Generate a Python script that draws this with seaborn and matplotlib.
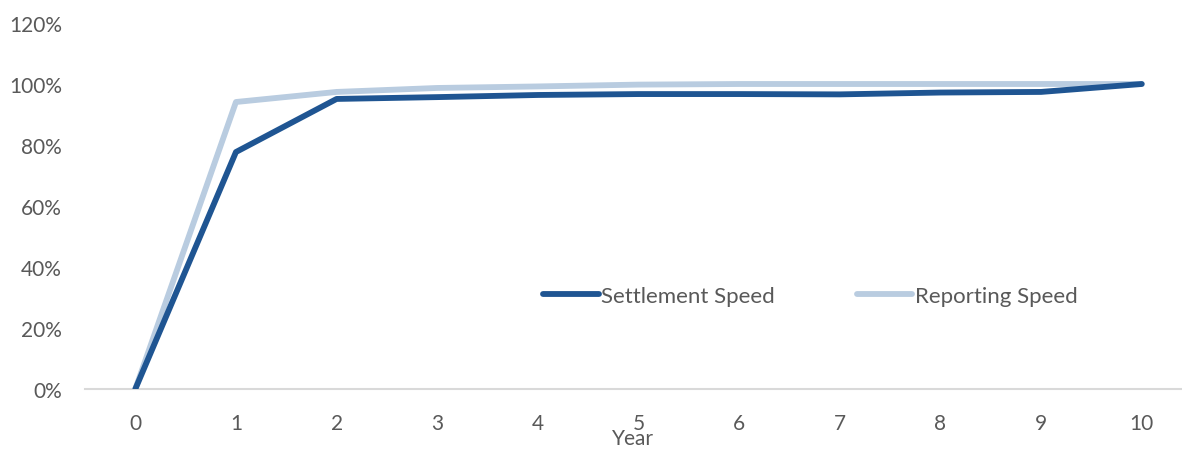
import matplotlib
matplotlib.use("Agg")
import matplotlib.pyplot as plt
import matplotlib.ticker as mticker
import seaborn as sns
import pandas as pd

years = [0, 1, 2, 3, 4, 5, 6, 7, 8, 9, 10]
settlement_speed = [0.0, 0.777, 0.951, 0.957, 0.964, 0.967, 0.967, 0.966, 0.972, 0.974, 1.0]
reporting_speed = [0.0, 0.941, 0.974, 0.987, 0.992, 0.998, 1.0, 1.0, 1.0, 1.0, 1.0]
y_ticks = [0.0, 0.2, 0.4, 0.6, 0.8, 1.0, 1.2]

sns.set_theme(style="white")
plt.rcParams["font.family"] = ["Lato", "DejaVu Sans"]

text_grey = "#595959"
dark_blue = "#1F5592"
light_blue = "#B9CCE0"

W, H = 1182, 452
fig = plt.figure(figsize=(W / 100, H / 100), dpi=100)
ax = fig.add_axes([85 / W, 62 / H, 1 - 85 / W, (390 - 24) / H])

df = pd.DataFrame({"Year": years,
                   "Settlement Speed": settlement_speed,
                   "Reporting Speed": reporting_speed})

sns.lineplot(data=df, x="Year", y="Reporting Speed", ax=ax, color=light_blue,
             linewidth=4.2, solid_capstyle="round", zorder=2,
             label="Reporting Speed")
sns.lineplot(data=df, x="Year", y="Settlement Speed", ax=ax, color=dark_blue,
             linewidth=4.2, solid_capstyle="round", zorder=3,
             label="Settlement Speed")

ax.set_xlim(-0.5, 10.4)
ax.set_ylim(0, 1.2)
ax.set_xticks(years)
ax.set_yticks(y_ticks)
ax.yaxis.set_major_formatter(mticker.FuncFormatter(lambda v, _: f"{v * 100:.0f}%"))

for side in ["top", "right", "left"]:
    ax.spines[side].set_visible(False)
ax.spines["bottom"].set_color("#D9D9D9")
ax.spines["bottom"].set_linewidth(1.5)
ax.spines["bottom"].set_zorder(1)
ax.tick_params(axis="both", length=0, labelsize=15, colors=text_grey)
ax.tick_params(axis="y", pad=16.5)
ax.tick_params(axis="x", pad=17)
ax.set_ylabel("")
ax.set_xlabel("Year", fontsize=15, color=text_grey)
ax.xaxis.set_label_coords((633 - 85) / (W - 85), -(449 - 390) / 366)
ax.xaxis.label.set_va("bottom")
ax.grid(False)

handles, labels = ax.get_legend_handles_labels()
order = [labels.index("Settlement Speed"), labels.index("Reporting Speed")]
leg = ax.legend([handles[i] for i in order], [labels[i] for i in order],
                ncol=2, frameon=False, fontsize=16, handlelength=2.5,
                handletextpad=0.1, columnspacing=3.7, borderpad=0,
                borderaxespad=0, loc="center left",
                bbox_to_anchor=((543 - 85) / (W - 85), (390 - 297) / 366))
for t in leg.get_texts():
    t.set_color(text_grey)

fig.savefig("out.png", dpi=100)
